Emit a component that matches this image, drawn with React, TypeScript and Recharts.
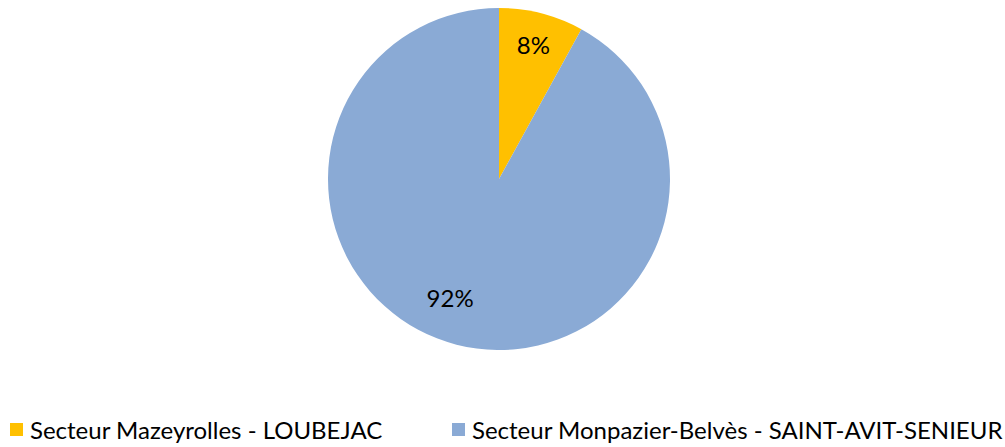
import { PieChart, Pie, Cell, Legend } from "recharts";

const sectors = [
  "Secteur Mazeyrolles - LOUBEJAC",
  "Secteur Monpazier-Belvès - SAINT-AVIT-SENIEUR",
];
const shares = [8, 92];
const colors = ["#FFC000", "#8AAAD5"];

const data = sectors.map((name, i) => ({ name, value: shares[i] }));

const FONT = "Lato, 'Liberation Sans', sans-serif";
const RAD = Math.PI / 180;

// Excel-style "best fit" label positions inside slices
const labelTweak = [
  { r: 0.81, da: 0 },
  { r: 0.75, da: -8 },
];

const renderLabel = (props: any) => {
  const { cx, cy, midAngle, outerRadius, index, value } = props;
  const t = labelTweak[index];
  const a = (midAngle + t.da) * RAD;
  const x = cx + outerRadius * t.r * Math.cos(a);
  const y = cy - outerRadius * t.r * Math.sin(a);
  return (
    <text
      x={x}
      y={y}
      textAnchor="middle"
      dominantBaseline="central"
      fill="#000"
      fontSize={24}
      fontFamily={FONT}
    >
      {value}%
    </text>
  );
};

const legendX = [10, 452];

const renderLegend = () => (
  <div style={{ position: "relative", height: 30, fontFamily: FONT, fontSize: 24 }}>
    {data.map((d, i) => (
      <div
        key={d.name}
        style={{
          position: "absolute",
          left: legendX[i],
          top: 0,
          display: "flex",
          alignItems: "center",
          whiteSpace: "nowrap",
          color: "#000",
        }}
      >
        <div style={{ width: 13, height: 13, background: colors[i], marginRight: 7 }} />
        <span>{d.name}</span>
      </div>
    ))}
  </div>
);

export default function App() {
  return (
    <div style={{ position: "absolute", left: 0, top: 0, background: "#fff" }}>
      <PieChart width={1005} height={447} margin={{ top: 0, right: 0, bottom: 0, left: 0 }}>
        <Pie
          data={data}
          dataKey="value"
          cx={499}
          cy={179}
          outerRadius={171}
          startAngle={90}
          endAngle={-270}
          stroke="none"
          label={renderLabel}
          labelLine={false}
          isAnimationActive={false}
        >
          {data.map((entry, i) => (
            <Cell key={`cell-${i}`} fill={colors[i]} />
          ))}
        </Pie>
        <Legend
          content={renderLegend}
          wrapperStyle={{ position: "absolute", left: 0, top: 415, width: 1005 }}
        />
      </PieChart>
    </div>
  );
}
